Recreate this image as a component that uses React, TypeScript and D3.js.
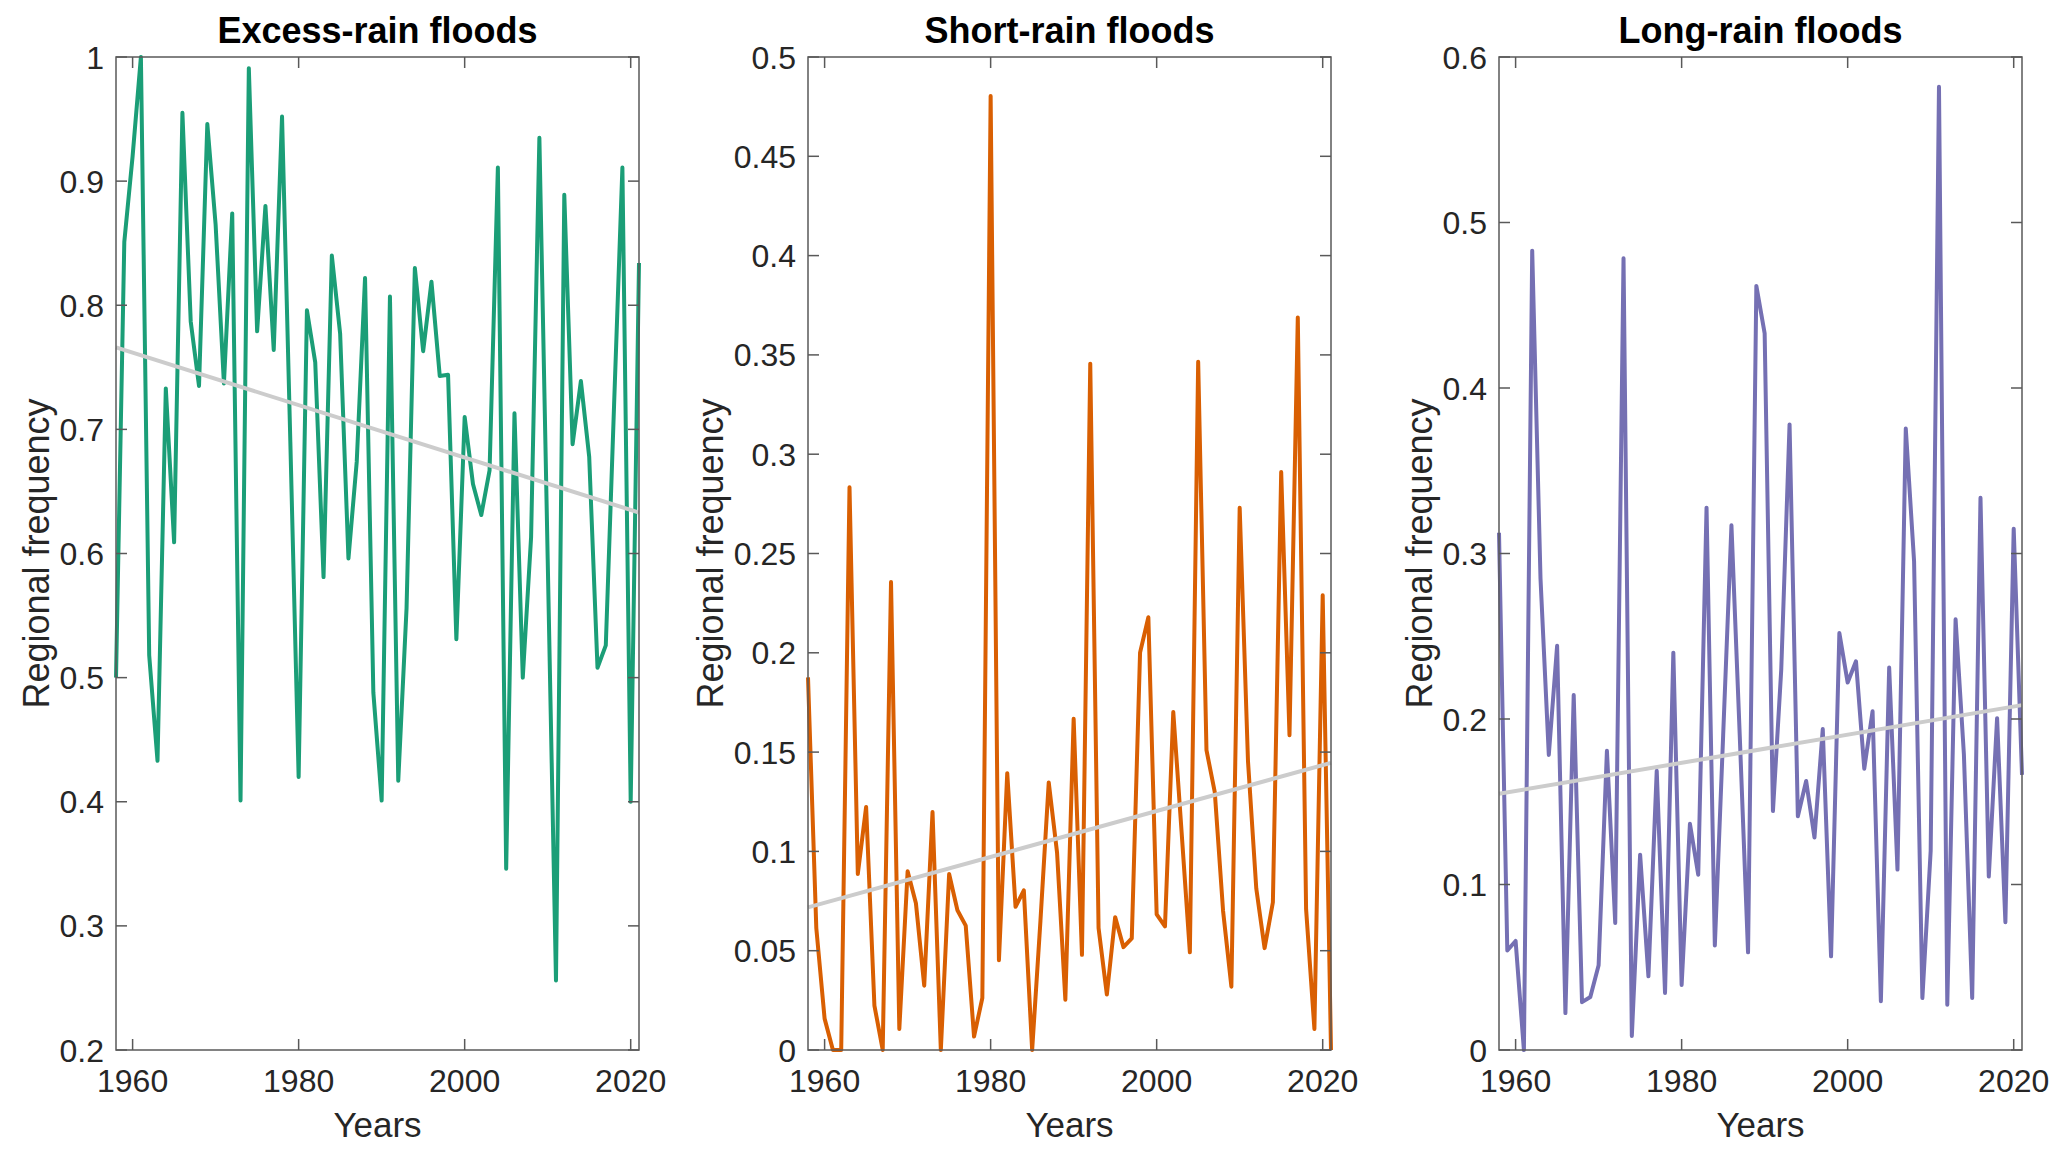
import React, { useEffect, useRef } from "react";
import * as d3 from "d3";

const years = d3.range(1958, 2022);

const excessRain = [
  0.5, 0.851, 0.92, 1.0, 0.518, 0.433, 0.733, 0.609, 0.955, 0.787,
  0.735, 0.946, 0.865, 0.737, 0.874, 0.401, 0.991, 0.779, 0.88, 0.764,
  0.952, 0.69, 0.42, 0.796, 0.754, 0.581, 0.84, 0.777, 0.596, 0.674,
  0.822, 0.488, 0.401, 0.807, 0.417, 0.556, 0.83, 0.763, 0.819, 0.743,
  0.744, 0.531, 0.71, 0.656, 0.631, 0.667, 0.911, 0.346, 0.713, 0.5,
  0.613, 0.935, 0.596, 0.256, 0.889, 0.688, 0.739, 0.678, 0.508, 0.526,
  0.72, 0.911, 0.4, 0.834,
];

const shortRain = [
  0.1876, 0.0614, 0.0158, 0, 0, 0.2834, 0.0886, 0.1224, 0.0224, 0,
  0.2356, 0.0106, 0.09, 0.0739, 0.0324, 0.1198, 0, 0.0886, 0.0704, 0.0626,
  0.0068, 0.0262, 0.4804, 0.0452, 0.1394, 0.0721, 0.0804, 0, 0.065, 0.1347,
  0.0995, 0.0253, 0.1668, 0.0479, 0.3456, 0.0614, 0.0279, 0.0669, 0.0518, 0.0562,
  0.2001, 0.2179, 0.0683, 0.0622, 0.1702, 0.11, 0.0492, 0.3465, 0.151, 0.1298,
  0.07, 0.0319, 0.273, 0.1455, 0.0813, 0.0513, 0.0744, 0.291, 0.1585, 0.3688,
  0.0709, 0.0106, 0.229, 0,
];

const longRain = [
  0.3125, 0.0601, 0.0659, 0, 0.483, 0.2848, 0.1783, 0.2442, 0.0223, 0.2145,
  0.0289, 0.032, 0.0512, 0.1808, 0.0768, 0.4784, 0.0085, 0.118, 0.0445, 0.1687,
  0.0345, 0.2401, 0.0393, 0.1367, 0.1059, 0.3277, 0.0632, 0.19, 0.317, 0.19,
  0.059, 0.4617, 0.433, 0.1444, 0.23, 0.378, 0.1412, 0.1625, 0.1284, 0.1939,
  0.0566, 0.2519, 0.222, 0.2349, 0.17, 0.2047, 0.0295, 0.2311, 0.109, 0.3755,
  0.2952, 0.0314, 0.1204, 0.582, 0.0273, 0.2602, 0.1787, 0.0314, 0.3337, 0.1048,
  0.2005, 0.0772, 0.315, 0.1662,
];

// trend line values at first and last year
const excessTrend = [0.766, 0.633];
const shortTrend = [0.0718, 0.1446];
const longTrend = [0.1548, 0.2084];

const titles = ["Excess-rain floods", "Short-rain floods", "Long-rain floods"];
const colors = ["#1b9e77", "#d95f02", "#7570b3"];
const yDomains: [number, number][] = [[0.2, 1], [0, 0.5], [0, 0.6]];
const yTicks = [
  [0.2, 0.3, 0.4, 0.5, 0.6, 0.7, 0.8, 0.9, 1],
  [0, 0.05, 0.1, 0.15, 0.2, 0.25, 0.3, 0.35, 0.4, 0.45, 0.5],
  [0, 0.1, 0.2, 0.3, 0.4, 0.5, 0.6],
];
const xTicks = [1960, 1980, 2000, 2020];
const series = [excessRain, shortRain, longRain];
const trends = [excessTrend, shortTrend, longTrend];

const W = 2067;
const H = 1155;
const panelLefts = [116, 808, 1499];
const panelW = 523;
const top = 57;
const bottom = 1050;
const font = "'Liberation Sans', Arial, Helvetica, sans-serif";
const axisColor = "#595959";
const textColor = "#262626";
const tickLen = 11;

const App: React.FC = () => {
  const svgRef = useRef<SVGSVGElement | null>(null);

  useEffect(() => {
    const svgElement = svgRef.current;
    if (!svgElement) return;
    const svg = d3.select(svgElement);
    svg.selectAll("*").remove();

    svg.append("rect").attr("width", W).attr("height", H).attr("fill", "white");

    series.forEach((data, i) => {
      const left = panelLefts[i];
      const right = left + panelW;
      const x = d3.scaleLinear().domain([1958, 2021]).range([left, right]);
      const y = d3.scaleLinear().domain(yDomains[i]).range([bottom, top]);
      const g = svg.append("g");

      // data line
      const line = d3
        .line<number>()
        .x((_, j) => x(years[j]))
        .y((d) => y(d));
      g.append("path")
        .datum(data)
        .attr("d", line)
        .attr("fill", "none")
        .attr("stroke", colors[i])
        .attr("stroke-width", 4)
        .attr("stroke-linejoin", "round");

      // trend line
      g.append("line")
        .attr("x1", x(1958))
        .attr("y1", y(trends[i][0]))
        .attr("x2", x(2021))
        .attr("y2", y(trends[i][1]))
        .attr("stroke", "#cccccc")
        .attr("stroke-width", 4);

      // box
      g.append("rect")
        .attr("x", left)
        .attr("y", top)
        .attr("width", panelW)
        .attr("height", bottom - top)
        .attr("fill", "none")
        .attr("stroke", axisColor)
        .attr("stroke-width", 1.5);

      // x ticks (inward, top and bottom)
      xTicks.forEach((t) => {
        g.append("line")
          .attr("x1", x(t)).attr("x2", x(t))
          .attr("y1", bottom).attr("y2", bottom - tickLen)
          .attr("stroke", axisColor).attr("stroke-width", 1.5);
        g.append("line")
          .attr("x1", x(t)).attr("x2", x(t))
          .attr("y1", top).attr("y2", top + tickLen)
          .attr("stroke", axisColor).attr("stroke-width", 1.5);
        g.append("text")
          .attr("x", x(t))
          .attr("y", 1092)
          .attr("text-anchor", "middle")
          .attr("font-family", font)
          .attr("font-size", 32)
          .attr("fill", textColor)
          .text(t);
      });

      // y ticks (inward, left and right)
      let maxW = 0;
      yTicks[i].forEach((t) => {
        g.append("line")
          .attr("x1", left).attr("x2", left + tickLen)
          .attr("y1", y(t)).attr("y2", y(t))
          .attr("stroke", axisColor).attr("stroke-width", 1.5);
        g.append("line")
          .attr("x1", right).attr("x2", right - tickLen)
          .attr("y1", y(t)).attr("y2", y(t))
          .attr("stroke", axisColor).attr("stroke-width", 1.5);
        const label = g.append("text")
          .attr("x", left - 12)
          .attr("y", y(t))
          .attr("dy", "0.36em")
          .attr("text-anchor", "end")
          .attr("font-family", font)
          .attr("font-size", 32)
          .attr("fill", textColor)
          .text(String(+t.toFixed(2)));
        const node = label.node();
        if (node) maxW = Math.max(maxW, node.getComputedTextLength());
      });

      // axis labels
      g.append("text")
        .attr("x", (left + right) / 2)
        .attr("y", 1137)
        .attr("text-anchor", "middle")
        .attr("font-family", font)
        .attr("font-size", 35)
        .attr("fill", textColor)
        .text("Years");

      const ly = (top + bottom) / 2;
      const lx = left - 12 - maxW - 11;
      g.append("text")
        .attr("transform", `translate(${lx},${ly}) rotate(-90)`)
        .attr("text-anchor", "middle")
        .attr("font-family", font)
        .attr("font-size", 36)
        .attr("fill", textColor)
        .text("Regional frequency");

      // title
      g.append("text")
        .attr("x", (left + right) / 2)
        .attr("y", 43)
        .attr("text-anchor", "middle")
        .attr("font-family", font)
        .attr("font-size", 36)
        .attr("font-weight", "bold")
        .attr("fill", "#000")
        .text(titles[i]);
    });
  }, []);

  return (
    <div>
      <svg
        ref={svgRef}
        width={W}
        height={H}
        style={{ position: "absolute", left: 0, top: 0 }}
      ></svg>
    </div>
  );
};

export default App;
